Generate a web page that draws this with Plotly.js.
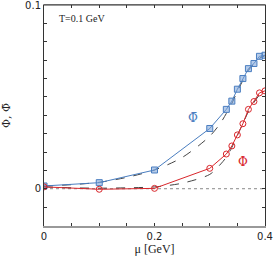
<!DOCTYPE html>
<html><head><meta charset="utf-8">
<script src="https://cdn.plot.ly/plotly-3.0.1.min.js"></script>
<style>html,body{margin:0;padding:0;background:#fff}#c{width:274px;height:262px}</style>
</head><body><div id="c"></div>
<script>
const muPts = [0, 0.1, 0.2, 0.3, 0.33, 0.34, 0.35, 0.36, 0.37, 0.38, 0.39, 0.4];
const phiBar = [0.0015, 0.0033, 0.0102, 0.0328, 0.0432, 0.0477, 0.0542, 0.0600, 0.0654, 0.0682, 0.0721, 0.0727];
const phi = [0.0010, -0.0003, 0.0002, 0.0111, 0.0189, 0.0233, 0.0293, 0.0354, 0.0432, 0.0475, 0.0522, 0.0533];
const muCurve = [0, 0.05, 0.1, 0.15, 0.2, 0.25, 0.3, 0.32, 0.33, 0.34, 0.35, 0.36, 0.37, 0.38, 0.39, 0.4];
const phiBarCurve = [0.0015, 0.0022, 0.0035, 0.0062, 0.0102, 0.0170, 0.0286, 0.0360, 0.0410, 0.0465, 0.0530, 0.0590, 0.0645, 0.0680, 0.0710, 0.0725];
const phiCurve = [0.0010, 0.0005, 0.0003, 0.0005, 0.0010, 0.0030, 0.0078, 0.0135, 0.0172, 0.0225, 0.0290, 0.0355, 0.0420, 0.0470, 0.0510, 0.0530];
const xTickVals = [0, 0.05, 0.1, 0.15, 0.2, 0.25, 0.3, 0.35, 0.4];
const xTickText = ['0', '', '', '', '0.2', '', '', '', '0.4'];
const yTickVals = [-0.02, -0.01, 0, 0.01, 0.02, 0.03, 0.04, 0.05, 0.06, 0.07, 0.08, 0.09, 0.1];
const yTickText = ['', '', '0', '', '', '', '', '', '', '', '', '', '0.1'];

const blue = '#4a7ec0', red = '#d9262b', dash = '#444';
const traces = [
  {x: muCurve, y: phiBarCurve, mode: 'lines', line: {color: dash, width: 1, dash: 'dash', shape: 'spline', smoothing: 0.8}, hoverinfo: 'skip'},
  {x: muCurve, y: phiCurve, mode: 'lines', line: {color: dash, width: 1, dash: 'dash', shape: 'spline', smoothing: 0.8}, hoverinfo: 'skip'},
  {x: muPts, y: phiBar, mode: 'lines+markers', line: {color: blue, width: 1},
   marker: {symbol: 'square', size: 6, color: 'rgba(120,160,215,0.55)', line: {color: blue, width: 1}}},
  {x: muPts, y: phi, mode: 'lines+markers', line: {color: red, width: 1},
   marker: {symbol: 'circle-open', size: 6, color: red, line: {color: red, width: 1}}}
];
const tickFont = {family: 'DejaVu Sans, sans-serif', size: 10, color: '#222'};
const layout = {
  width: 274, height: 262,
  margin: {l: 44, r: 9, t: 5, b: 36},
  paper_bgcolor: '#fff', plot_bgcolor: '#fff',
  showlegend: false,
  xaxis: {range: [0, 0.4], tickvals: xTickVals, ticktext: xTickText, ticks: 'inside', ticklen: 3,
    tickcolor: '#333', showgrid: false, zeroline: false, showline: true, linecolor: '#999', linewidth: 1.5,
    mirror: 'ticks', tickfont: tickFont, ticklabeloverflow: 'allow',
    title: {text: 'μ [GeV]', font: {family: 'Liberation Serif, serif', size: 12, color: '#222'}, standoff: 4}},
  yaxis: {range: [-0.0203, 0.10005], tickvals: yTickVals, ticktext: yTickText, ticks: 'inside', ticklen: 3,
    tickcolor: '#333', showgrid: false, zeroline: false, showline: true, linecolor: '#333', linewidth: 1,
    mirror: 'ticks', tickfont: tickFont, ticklabeloverflow: 'allow',
    title: {text: 'Φ, Φ\u0304', font: {family: 'DejaVu Serif, serif', size: 11, color: '#222'}, standoff: 14}},
  shapes: [
    {type: 'line', xref: 'paper', x0: 0, x1: 1, yref: 'y', y0: 0, y1: 0, line: {color: '#888', width: 1, dash: 'dot'}, layer: 'below'},
    {type: 'line', xref: 'paper', x0: 0, x1: 1, yref: 'paper', y0: 1, y1: 1, line: {color: '#333', width: 1}}
  ],
  annotations: [
    {xref: 'paper', yref: 'paper', x: 0.06, y: 0.94, xanchor: 'left', yanchor: 'middle', showarrow: false,
     text: 'T=0.1 GeV', font: {family: 'Liberation Serif, serif', size: 10, color: '#222'}},
    {xref: 'x', yref: 'y', x: 0.27, y: 0.0384, showarrow: false,
     text: 'Φ\u0304', font: {family: 'DejaVu Serif, serif', size: 12, color: blue}},
    {xref: 'x', yref: 'y', x: 0.36, y: 0.0145, showarrow: false,
     text: 'Φ', font: {family: 'DejaVu Serif, serif', size: 12, color: red}}
  ]
};
Plotly.newPlot('c', traces, layout, {displayModeBar: false, staticPlot: true});
</script></body></html>
